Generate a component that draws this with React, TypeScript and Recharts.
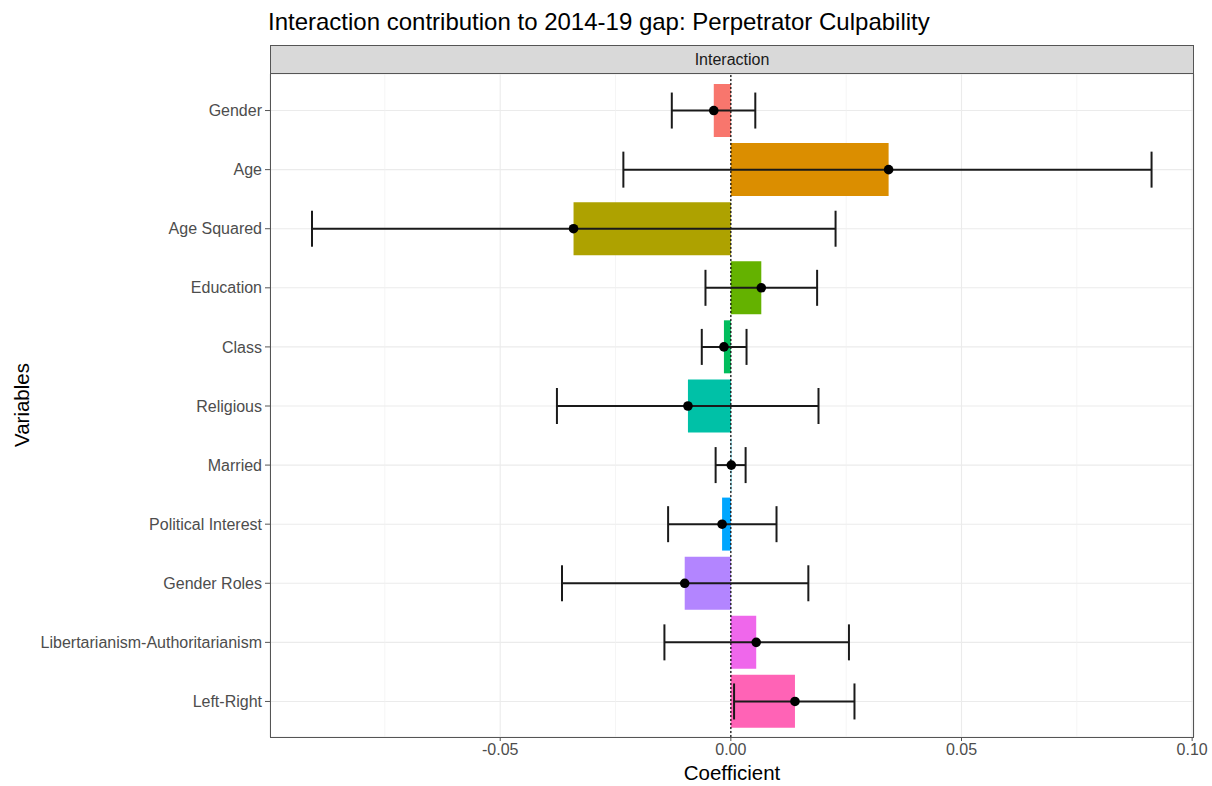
import React from 'react';
import {
  ComposedChart,
  Bar,
  Line,
  Cell,
  XAxis,
  YAxis,
  CartesianGrid,
  ReferenceLine,
  ErrorBar,
} from 'recharts';

const categories = [
  'Gender',
  'Age',
  'Age Squared',
  'Education',
  'Class',
  'Religious',
  'Married',
  'Political Interest',
  'Gender Roles',
  'Libertarianism-Authoritarianism',
  'Left-Right',
];
const estimates = [-0.0037, 0.0342, -0.0341, 0.0066, -0.0015, -0.0093, 0.0001, -0.0019, -0.01, 0.0055, 0.0139];
const lowerBounds = [-0.0128, -0.0233, -0.0908, -0.0055, -0.0063, -0.0377, -0.0033, -0.0136, -0.0366, -0.0144, 0.0007];
const upperBounds = [0.0053, 0.0912, 0.0227, 0.0187, 0.0034, 0.019, 0.0032, 0.0099, 0.0168, 0.0256, 0.0268];
const colors = ['#F8766D', '#DB8E00', '#AEA200', '#64B200', '#00BD5C', '#00C1A7', '#00BADE', '#00A6FF', '#B385FF', '#EF67EB', '#FF63B6'];
const xTicks = [-0.05, 0, 0.05, 0.1];
const minorTicks = [-0.075, -0.025, 0.025, 0.075];
const xDomain = [-0.0999, 0.1004];

const data = categories.map((name, i) => ({
  name,
  value: estimates[i],
  err: [estimates[i] - lowerBounds[i], upperBounds[i] - estimates[i]],
}));

const FONT = '"Liberation Sans", Arial, Helvetica, sans-serif';

const minorGen = (props: any) => {
  const axis = props && props.xAxis;
  const sc = axis && axis.scale;
  if (typeof sc === 'function') return minorTicks.map((t) => sc(t));
  if (sc && typeof sc.map === 'function') return minorTicks.map((t) => sc.map(t));
  const off = (props && props.offset) || {};
  const left = off.left ?? 270;
  const w = off.width ?? 924;
  return minorTicks.map((t) => left + ((t - xDomain[0]) / (xDomain[1] - xDomain[0])) * w);
};

export default function App() {
  return (
    <div style={{ position: 'fixed', left: 0, top: 0, width: 1212, height: 786, background: '#fff', fontFamily: FONT }}>
      <div style={{ position: 'absolute', left: 268, top: 7, fontSize: 24, color: '#000', whiteSpace: 'nowrap', lineHeight: '30px' }}>
        Interaction contribution to 2014-19 gap: Perpetrator Culpability
      </div>
      <div
        style={{
          position: 'absolute',
          left: 270,
          top: 45,
          width: 924,
          height: 29,
          boxSizing: 'border-box',
          background: '#d9d9d9',
          border: '1px solid #555',
          fontSize: 16,
          color: '#1a1a1a',
          textAlign: 'center',
          lineHeight: '27px',
        }}
      >
        Interaction
      </div>
      <div
        style={{
          position: 'absolute',
          left: 22,
          top: 405,
          transform: 'translate(-50%, -50%) rotate(-90deg)',
          fontSize: 20.5,
          color: '#000',
          whiteSpace: 'nowrap',
        }}
      >
        Variables
      </div>
      <div
        style={{
          position: 'absolute',
          left: 732,
          top: 773,
          transform: 'translate(-50%, -50%)',
          fontSize: 20.5,
          color: '#000',
          whiteSpace: 'nowrap',
        }}
      >
        Coefficient
      </div>
      <ComposedChart
        width={1212}
        height={786}
        data={data}
        layout="vertical"
        margin={{ top: 74, right: 18, bottom: 19, left: 0 }}
        barCategoryGap="5%"
        style={{ fontFamily: FONT }}
      >
        <CartesianGrid stroke="#ebebeb" strokeWidth={1.1} />
        <CartesianGrid stroke="#f1f1f1" strokeWidth={0.7} horizontal={false} verticalCoordinatesGenerator={minorGen} />
        <XAxis
          type="number"
          domain={xDomain}
          allowDataOverflow
          ticks={xTicks}
          height={30}
          tickFormatter={(v: number) => v.toFixed(2)}
          tick={{ fill: '#4d4d4d', fontSize: 16 }}
          tickSize={4}
          tickMargin={3}
          stroke="#555"
          axisLine={false}
        />
        <YAxis
          type="category"
          dataKey="name"
          width={270}
          padding={{ top: 7, bottom: 6 }}
          tick={{ fill: '#4d4d4d', fontSize: 16 }}
          tickSize={5}
          tickMargin={3}
          stroke="#555"
          axisLine={false}
          interval={0}
        />
        <Bar dataKey="value" isAnimationActive={false}>
          {data.map((d, i) => (
            <Cell key={d.name} fill={colors[i]} />
          ))}
        </Bar>
        <ReferenceLine x={0} stroke="#000" strokeDasharray="2 2" strokeWidth={1.2} />
        <Line
          dataKey="value"
          stroke="none"
          isAnimationActive={false}
          dot={{ r: 4.8, fill: '#000', stroke: '#000', strokeWidth: 0 }}
          activeDot={false}
        >
          <ErrorBar dataKey="err" direction="x" width={18} stroke="#1a1a1a" strokeWidth={2} />
        </Line>
      </ComposedChart>
      <div
        style={{
          position: 'absolute',
          left: 270,
          top: 73,
          width: 924,
          height: 665,
          boxSizing: 'border-box',
          border: '1px solid #555',
          pointerEvents: 'none',
        }}
      />
    </div>
  );
}
